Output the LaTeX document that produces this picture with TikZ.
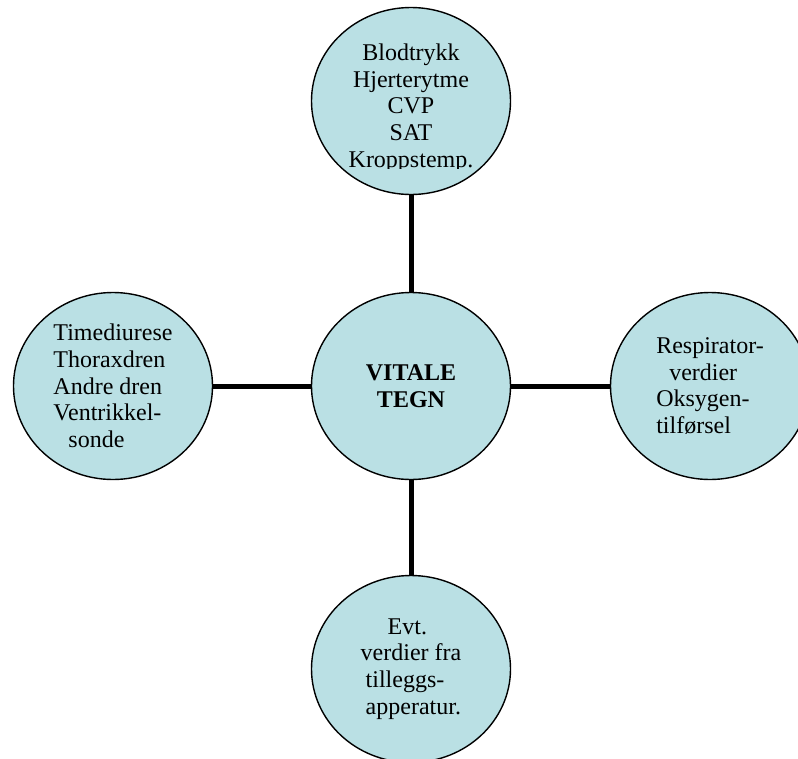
\documentclass[tikz,border=0pt]{standalone}
\usepackage{fontspec}
\setmainfont{Liberation Serif}
\usetikzlibrary{shapes.geometric}
\definecolor{vitalblue}{RGB}{186,224,228}
\tikzset{
  bubble/.style={ellipse,draw=black,line width=1.4pt,fill=vitalblue,
    minimum width=199pt,minimum height=187pt,inner sep=0pt},
  txt/.style={font=\fontsize{24}{26.7}\selectfont,align=center},
  link/.style={line width=5pt}
}
\begin{document}
\begin{tikzpicture}[x=1pt,y=1pt]
        \useasboundingbox (0,0) rectangle (798,-758);
        \node[bubble,txt] (tegn) at (411,-386) {\textbf{VITALE}\\\textbf{TEGN}};
        \node[bubble] (topp) at (411,-101) {};
        \begin{scope}
            \clip (300,-7) rectangle (530,-168);
            \node[txt] (toppinfo) at (411,-108) {Blodtrykk\\Hjerterytme\\CVP\\SAT\\Kroppstemp.};
        \end{scope}
        \node[bubble,txt,align=left] (venstre) at (113,-386) {Timediurese\\Thoraxdren\\Andre dren\\Ventrikkel-\\\hspace*{15pt}sonde};
        \node[bubble,txt,align=left] (hoyre) at (710,-386) {Respirator-\\\hspace*{13pt}verdier\\Oksygen-\\tilførsel};
        \node[bubble,txt,align=left] (bunn) at (411,-669) {\hspace*{27pt}Evt.\\verdier fra\\\hspace*{5pt}tilleggs-\\\hspace*{5pt}apperatur.};

        \draw[link] (tegn) -- (topp);
        \draw[link] (tegn) -- (venstre);
        \draw[link] (tegn) -- (hoyre);
        \draw[link] (tegn) -- (bunn);

    \end{tikzpicture}
\end{document}
